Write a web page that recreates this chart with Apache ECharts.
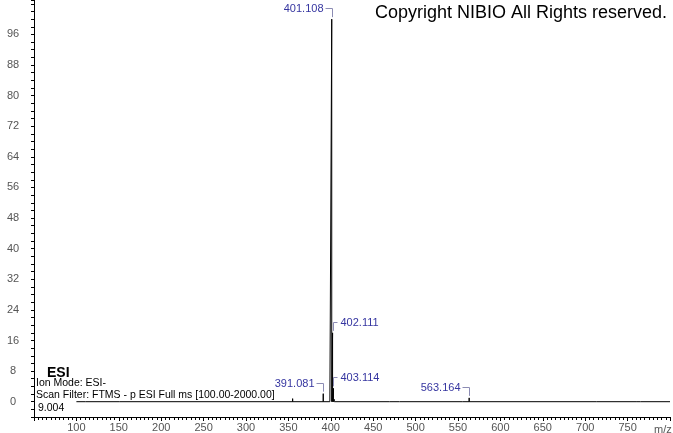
<!DOCTYPE html>
<html><head><meta charset="utf-8">
<script src="https://cdn.jsdelivr.net/npm/echarts@6/dist/echarts.min.js"></script>
<style>html,body{margin:0;padding:0;background:#fff}#c{width:673px;height:433px}</style>
</head><body><div id="c"></div>
<script>
// ---- data ----
const peakMz  = [111.0, 150.5, 175.0, 355.0, 391.081, 398.9, 401.108, 402.111, 403.114, 404.1, 469.0, 481.0, 555.0, 563.164, 713.0, 760.0, 765.0];
const peakInt = [0.3,   0.3,   0.3,   0.8,   2.1,     0.5,   100,     18,      3.5,     0.6,   0.5,   0.3,   0.3,   1.0,     0.3,   0.4,   0.5];
const labelMz   = [391.081, 401.108, 402.111, 403.114, 563.164];
const labelInt  = [2.1, 100, 18, 3.5, 1.0];
const labelText = ['391.081', '401.108', '402.111', '403.114', '563.164'];
const labelSide = ['left', 'left', 'right', 'right', 'left'];
const scanRange = [100, 800];
const xTickLabels = [100, 150, 200, 250, 300, 350, 400, 450, 500, 550, 600, 650, 700, 750];
const yTickLabels = [0, 8, 16, 24, 32, 40, 48, 56, 64, 72, 80, 88, 96];

// ---- build spectrum polyline ----
const spectrum = [[scanRange[0], 0]];
peakMz.forEach((m, i) => { spectrum.push([m, 0], [m, peakInt[i]], [m, 0]); });
spectrum.push([scanRange[1], 0]);

const chart = echarts.init(document.getElementById('c'), null, {renderer: 'canvas'});
const gray = '#555';
chart.setOption({
  animation: false,
  grid: {left: 34, right: 2, top: 0, bottom: 14},
  xAxis: {
    type: 'value', min: 50, max: 800, interval: 50,
    axisLine: {show: true, onZero: false, lineStyle: {color: '#000', width: 1}},
    axisTick: {show: true, length: 4, lineStyle: {color: '#000'}},
    minorTick: {show: true, splitNumber: 10, length: 3, lineStyle: {color: '#000'}},
    splitLine: {show: false},
    axisLabel: {
      color: gray, fontSize: 11, fontFamily: 'Arial', margin: 5,
      formatter: v => xTickLabels.includes(v) ? String(v) : ''
    }
  },
  yAxis: {
    type: 'value', min: -4, max: 105, interval: 2,
    axisLine: {show: true, onZero: false, lineStyle: {color: '#000', width: 1}},
    axisTick: {show: true, length: 3, lineStyle: {color: '#000'}},
    splitLine: {show: false},
    axisLabel: {
      color: gray, fontSize: 11, fontFamily: 'Arial', margin: 21, align: 'center',
      showMinLabel: true, showMaxLabel: true,
      formatter: v => yTickLabels.includes(v) ? String(v) : ''
    }
  },
  series: [
    {
      type: 'line', data: spectrum, symbol: 'none', silent: true,
      lineStyle: {color: '#000', width: 1}, z: 2
    },
    {
      type: 'custom', silent: true, z: 3,
      data: labelMz.map((m, i) => [m, labelInt[i], i]),
      renderItem: function (params, api) {
        const i = api.value(2);
        const p = api.coord([api.value(0), api.value(1)]);
        const x = Math.round(p[0]) + 0.5;
        const top = p[1];
        const cy = Math.round(top - 11) + 0.5;
        const left = labelSide[i] === 'left';
        const dx = left ? -7 : 4;
        return {
          type: 'group',
          children: [
            {type: 'polyline', shape: {points: [[x, top - 2], [x, cy], [x + dx, cy]]},
             style: {stroke: '#8c8cb4', lineWidth: 1, fill: null}},
            {type: 'text', style: {x: x + dx + (left ? -2 : 3), y: cy, text: labelText[i],
              align: left ? 'right' : 'left', verticalAlign: 'middle',
              fill: '#3535a0', font: '11px Arial'}}
          ]
        };
      }
    }
  ],
  graphic: [
    {type: 'text', left: 375, top: 4, style: {text: 'Copyright NIBIO All Rights reserved.', fill: '#000', font: '18px Arial'}},
    {type: 'text', left: 47, top: 366, z: 10, style: {text: 'ESI', fill: '#000', font: 'bold 14px Arial'}},
    {type: 'text', left: 36, top: 378, z: 11, style: {text: 'Ion Mode: ESI-', fill: '#000', font: '10.5px Arial', backgroundColor: '#fff'}},
    {type: 'text', left: 36, top: 390, z: 11, style: {text: 'Scan Filter: FTMS - p ESI Full ms [100.00-2000.00]', fill: '#000', font: '10.5px Arial'}},
    {type: 'text', left: 38, top: 403, z: 12, style: {text: '9.004', fill: '#000', font: '10.5px Arial'}},
    {type: 'text', left: 654, top: 424, style: {text: 'm/z', fill: gray, font: '11px Arial'}}
  ]
});
</script></body></html>
